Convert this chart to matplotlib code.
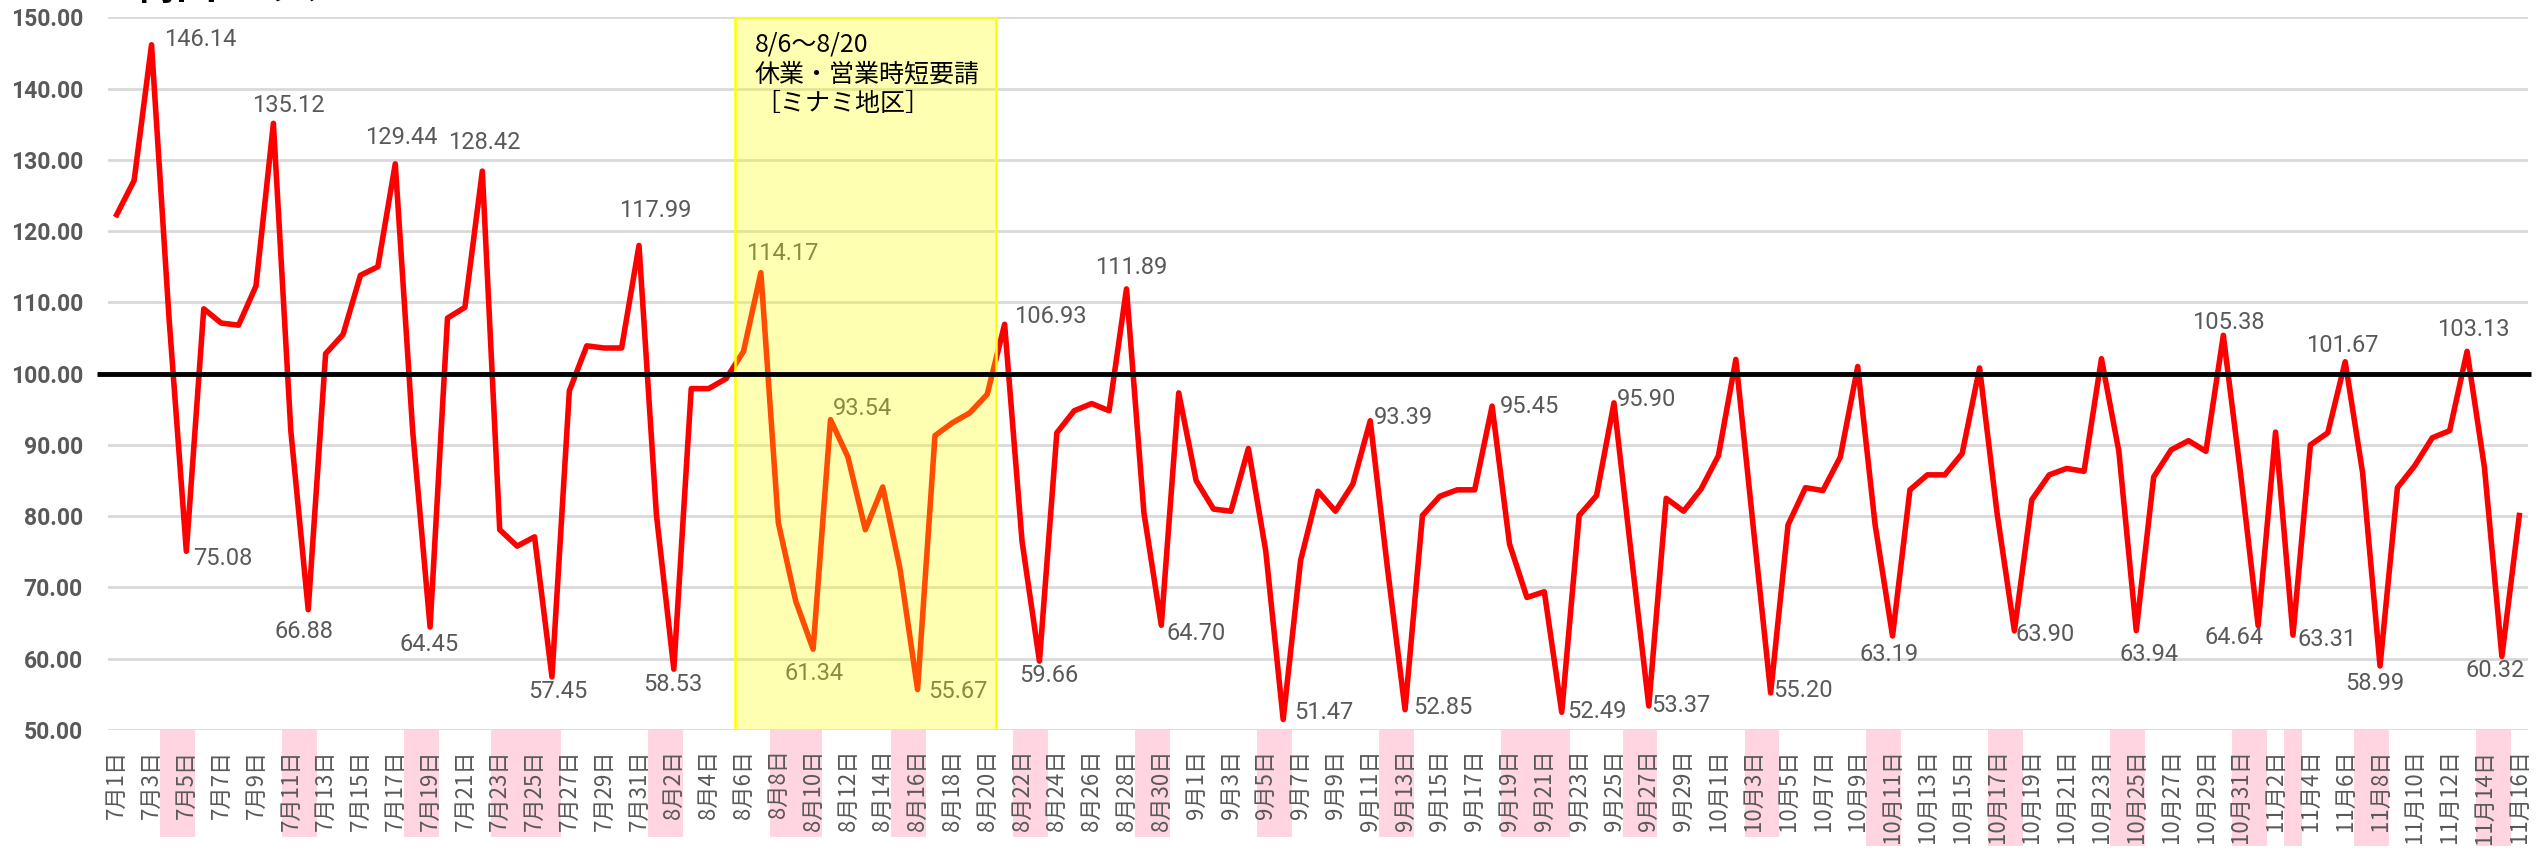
import matplotlib
matplotlib.use("Agg")
import matplotlib.pyplot as plt
import matplotlib.patches as mpatches
import matplotlib.transforms as mtrans
import numpy as np
import pandas as pd

# ---------------- data ----------------
dates = pd.date_range("2020-07-01", "2020-11-16", freq="D")
categories = [f"{d.month}月{d.day}日" for d in dates]

values = [
    122.3, 127.1, 146.14, 108.0, 75.08, 109.1, 107.1, 106.8, 112.3, 135.12,   # 7/1-7/10
    92.0, 66.88, 102.8, 105.5, 113.8, 115.0, 129.44, 92.0, 64.45, 107.8,      # 7/11-7/20
    109.3, 128.42, 78.1, 75.8, 77.1, 57.45, 97.6, 103.9, 103.6, 103.6,       # 7/21-7/30
    117.99, 80.2, 58.53, 97.9, 97.9, 99.3, 103.1, 114.17, 79.1, 68.1,         # 7/31-8/9
    61.34, 93.54, 88.3, 78.1, 84.1, 72.5, 55.67, 91.3, 93.1, 94.5,            # 8/10-8/19
    97.1, 106.93, 76.5, 59.66, 91.7, 94.8, 95.8, 94.8, 111.89, 80.5,          # 8/20-8/29
    64.70, 97.3, 85.0, 81.0, 80.7, 89.5, 75.1, 51.47, 73.8, 83.5,             # 8/30-9/8
    80.7, 84.5, 93.39, 72.5, 52.85, 80.1, 82.8, 83.7, 83.7, 95.45,            # 9/9-9/18
    76.1, 68.6, 69.4, 52.49, 80.1, 82.9, 95.90, 74.5, 53.37, 82.5,            # 9/19-9/28
    80.7, 83.8, 88.5, 102.0, 78.5, 55.20, 78.8, 84.0, 83.6, 88.3,             # 9/29-10/8
    101.0, 78.8, 63.19, 83.7, 85.8, 85.8, 88.8, 100.8, 80.5, 63.90,           # 10/9-10/18
    82.3, 85.8, 86.7, 86.3, 102.1, 89.1, 63.94, 85.5, 89.3, 90.6,             # 10/19-10/28
    89.1, 105.38, 85.8, 64.64, 91.8, 63.31, 90.0, 91.7, 101.67, 86.1,         # 10/29-11/7
    58.99, 84.0, 87.1, 91.0, 92.0, 103.13, 86.8, 60.32, 80.1,                 # 11/8-11/16
]

reference_value = 100.0
y_ticks = [50, 60, 70, 80, 90, 100, 110, 120, 130, 140, 150]

# points carrying a data label
label_idx = [2, 4, 9, 11, 16, 18, 21, 25, 30, 32, 37, 40, 41, 46, 51, 53, 58, 60,
             67, 72, 74, 79, 83, 86, 88, 95, 102, 109, 116, 121, 123, 125, 128,
             130, 135, 137]

# weekends / holidays highlighted under the axis (first day, last day)
holiday_ranges = [
    ("2020-07-04", "2020-07-05"), ("2020-07-11", "2020-07-12"), ("2020-07-18", "2020-07-19"),
    ("2020-07-23", "2020-07-26"), ("2020-08-01", "2020-08-02"), ("2020-08-08", "2020-08-10"),
    ("2020-08-15", "2020-08-16"), ("2020-08-22", "2020-08-23"), ("2020-08-29", "2020-08-30"),
    ("2020-09-05", "2020-09-06"), ("2020-09-12", "2020-09-13"), ("2020-09-19", "2020-09-22"),
    ("2020-09-26", "2020-09-27"), ("2020-10-03", "2020-10-04"), ("2020-10-10", "2020-10-11"),
    ("2020-10-17", "2020-10-18"), ("2020-10-24", "2020-10-25"), ("2020-10-31", "2020-11-01"),
    ("2020-11-03", "2020-11-03"), ("2020-11-07", "2020-11-08"), ("2020-11-14", "2020-11-15"),
]

request_period = ("2020-08-06", "2020-08-20")
request_text = "8/6～8/20\n休業・営業時短要請\n［ミナミ地区］"
title_text = "梅田エリア"

# ---------------- style ----------------
# label offsets in pixels (dx right, dy down)
label_offsets = [
    (49, -5), (36, 7), (15, -18), (-4, 22), (6, -26), (-1, 17), (2, -29), (6, 15),
    (16, -35), (-1, 15), (21, -19), (1, 24), (32, -11), (40, 2), (46, -8), (9, 14),
    (5, -21), (35, 8), (41, -7), (33, -3), (38, -2), (37, 0), (35, -1), (33, -3),
    (32, 0), (32, -2), (-3, 19), (31, 4), (13, 24), (5, -13), (-24, 12), (34, 4),
    (-3, -16), (-5, 18), (6, -22), (-7, 14),
]

CJK = ["Noto Sans CJK JP", "DejaVu Sans"]
GRAY = "#595959"

W, H = 2539, 851
fig = plt.figure(figsize=(W / 100, H / 100), dpi=100)
ax_left, ax_right, ax_top, ax_bottom = 108, 2528, 17.3, 730
ax = fig.add_axes([ax_left / W, 1 - ax_bottom / H, (ax_right - ax_left) / W,
                   (ax_bottom - ax_top) / H])

x = np.arange(len(values))
date_index = {d.strftime("%Y-%m-%d"): i for i, d in enumerate(dates)}

ax.set_xlim(-0.5, len(values) - 0.5)
ax.set_ylim(min(y_ticks), max(y_ticks))

for s in ax.spines.values():
    s.set_visible(False)

ax.set_yticks(y_ticks)
ax.set_yticklabels([f"{v:.2f}" for v in y_ticks], fontfamily="Roboto",
                   fontweight="bold", fontsize=16.5, color=GRAY)
ax.yaxis.grid(True, color="#D9D9D9", linewidth=2.0, zorder=0)
ax.set_axisbelow(True)

ax.set_xticks(x[::2])
ax.set_xticklabels(categories[::2], rotation=90, fontsize=16, color=GRAY,
                   family=CJK)
ax.tick_params(axis="both", length=0)
ax.tick_params(axis="x", pad=14)
ax.tick_params(axis="y", pad=18)

# pink weekend / holiday boxes below the axis
trans = mtrans.blended_transform_factory(ax.transData, ax.transAxes)
plot_h = ax_bottom - ax_top
for s, e in holiday_ranges:
    i0, i1 = date_index[s], date_index[e]
    depth = (107 if i0 < 100 else 116) / plot_h
    r = mpatches.Rectangle((i0 - 0.5, 0), i1 - i0 + 1, -depth, transform=trans,
                           facecolor="#FFD5E1", edgecolor="none", clip_on=False,
                           zorder=0.5)
    ax.add_patch(r)

# main line
ax.plot(x, values, color="#FF0000", linewidth=4.0, solid_joinstyle="round",
        zorder=3)

# data labels
for i, (dx, dy) in zip(label_idx, label_offsets):
    ax.annotate(f"{values[i]:.2f}", xy=(x[i], values[i]), xytext=(dx, -dy),
                textcoords="offset pixels", ha="center", va="center",
                fontsize=17, color=GRAY, fontfamily="Roboto", zorder=4)

# request period box (semi-transparent yellow over the line)
p0, p1 = date_index[request_period[0]], date_index[request_period[1]]
box = mpatches.Rectangle((p0 - 0.5, min(y_ticks)), p1 - p0 + 1,
                         max(y_ticks) - min(y_ticks),
                         facecolor=(1, 1, 0, 0.3), edgecolor="#FFFF00",
                         linewidth=1.8, zorder=5)
ax.add_patch(box)
ax.annotate(request_text, xy=(p0 - 0.5, max(y_ticks)), xytext=(20, -14),
            textcoords="offset pixels", ha="left", va="top", fontsize=18,
            color="black", family=CJK, linespacing=1.2, zorder=7)

# reference line at 100
ax.plot([-1.15, len(values) - 0.3], [reference_value, reference_value],
        color="black", linewidth=3.5, zorder=6, clip_on=False,
        solid_capstyle="butt")

# title (cut by the top edge, as in the original)
fig.text(134 / W, 1 - 8 / H, title_text, ha="left", va="bottom", fontsize=30,
         fontweight="bold", family=CJK, color="black")

fig.savefig("out.png", dpi=100)
